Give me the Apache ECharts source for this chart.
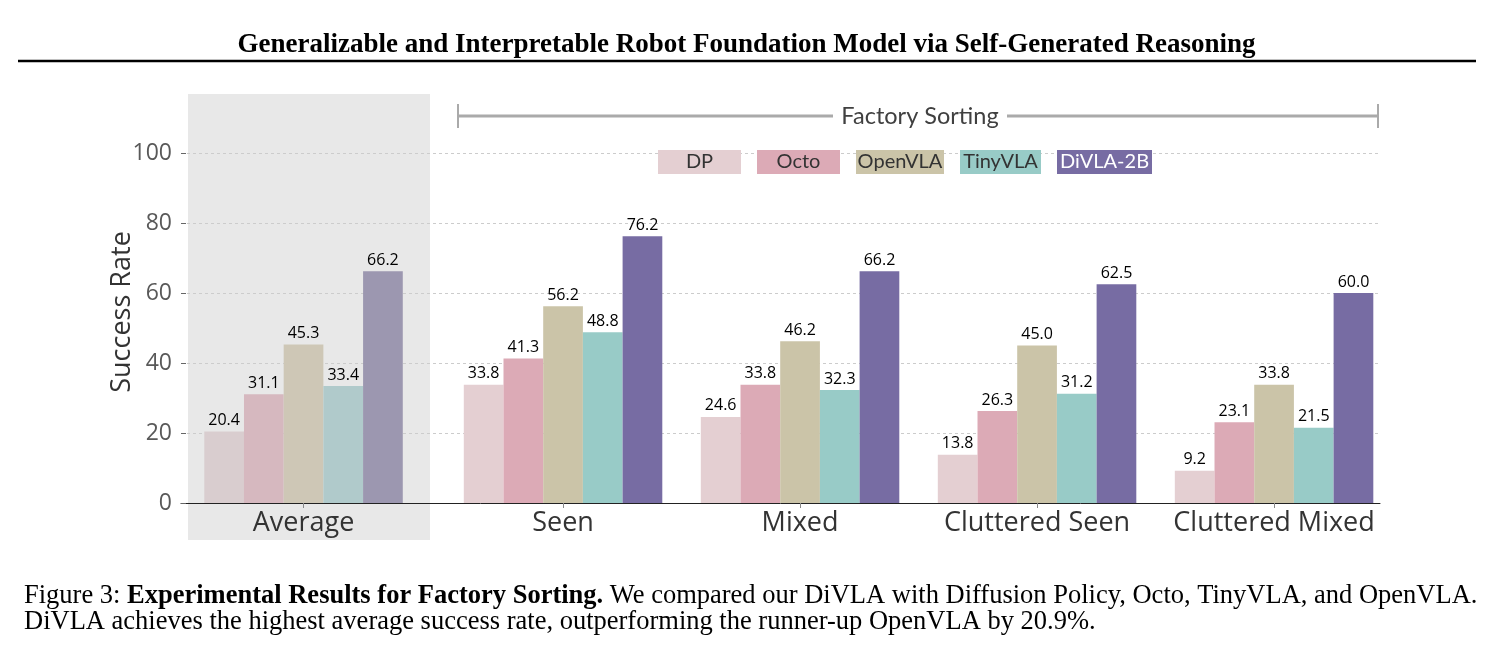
<!DOCTYPE html>
<html>
<head>
<meta charset="utf-8">
<script src="https://cdn.jsdelivr.net/npm/echarts@6/dist/echarts.min.js"></script>
<style>
  html, body { margin: 0; padding: 0; background: #fff; }
  #main { width: 1493px; height: 647px; }
</style>
</head>
<body>
<div id="main"></div>
<script>
// 分组名称
const groups = ['Average', 'Seen', 'Mixed', 'Cluttered Seen', 'Cluttered Mixed'];
// 方法名称
const methods = ['DP', 'Octo', 'OpenVLA', 'TinyVLA', 'DiVLA-2B'];
// 各方法在各分组的成功率
const dpVals = [20.4, 33.8, 24.6, 13.8, 9.2];
const octoVals = [31.1, 41.3, 33.8, 26.3, 23.1];
const openvlaVals = [45.3, 56.2, 46.2, 45.0, 33.8];
const tinyvlaVals = [33.4, 48.8, 32.3, 31.2, 21.5];
const divlaVals = [66.2, 76.2, 66.2, 62.5, 60.0];
const allVals = [dpVals, octoVals, openvlaVals, tinyvlaVals, divlaVals];
// y 轴刻度
const yTicks = [0, 20, 40, 60, 80, 100];

// 分组在 x 轴上的位置（Average 与其余分组之间留出更宽的间隔）
const groupPos = [-0.095, 1, 2, 3, 4];
const colors = ['#e4cfd2', '#dcaab6', '#cbc4a8', '#98cbc7', '#776ca3'];
const avgColors = ['#d9cdcf', '#d6b8bf', '#cec7b6', '#b0cacb', '#9c97b0'];
const legendWidths = [83, 83, 88, 81, 95];

const sans = '"Open Sans", "DejaVu Sans", sans-serif';
const narrow = 'Lato, "Open Sans", sans-serif';
const serif = '"Liberation Serif", "DejaVu Serif", serif';

const myChart = echarts.init(document.getElementById('main'));

// 图例用富文本做成带底色的方块
const legendRich = {};
methods.forEach((m, i) => {
    legendRich['s' + i] = {
        width: legendWidths[i],
        height: 24,
        lineHeight: 24,
        align: 'center',
        backgroundColor: colors[i],
        color: i === 4 ? '#ffffff' : '#333333',
        fontFamily: narrow,
        fontSize: 20
    };
});

const series = methods.map((m, i) => {
    return {
        name: m,
        type: 'bar',
        barWidth: 39.7,
        barGap: '0%',
        itemStyle: { color: colors[i] },
        label: {
            show: true,
            position: 'top',
            distance: 3,
            color: '#000',
            fontFamily: sans,
            fontSize: 16,
            formatter: p => p.value[1].toFixed(1)
        },
        data: allVals[i].map((v, j) => {
            const item = { value: [groupPos[j], v] };
            if (j === 0) item.itemStyle = { color: avgColors[i] };
            return item;
        })
    };
});

const option = {
    animation: false,
    backgroundColor: '#ffffff',
    title: [
        {
            text: 'Generalizable and Interpretable Robot Foundation Model via Self-Generated Reasoning',
            left: 'center',
            top: 27,
            textStyle: { fontFamily: serif, fontWeight: 'bold', fontSize: 27, color: '#000' }
        },
        {
            text: '{n|Figure 3: }{b|Experimental Results for Factory Sorting.}{n| We compared our DiVLA with Diffusion Policy, Octo, TinyVLA, and OpenVLA.}\n{n|DiVLA achieves the highest average success rate, outperforming the runner-up OpenVLA by 20.9%.}',
            left: 19,
            top: 578,
            textStyle: {
                fontWeight: 'normal',
                rich: {
                    n: { fontFamily: serif, fontSize: 26.5, fontWeight: 'normal', color: '#000', lineHeight: 26 },
                    b: { fontFamily: serif, fontSize: 26.5, fontWeight: 'bold', color: '#000', lineHeight: 26 }
                }
            }
        }
    ],
    legend: {
        data: methods,
        left: 648,
        top: 145,
        itemWidth: 0,
        itemHeight: 0,
        itemGap: 11,
        selectedMode: false,
        formatter: name => '{s' + methods.indexOf(name) + '|' + name + '}',
        textStyle: { rich: legendRich }
    },
    grid: {
        left: 181,
        right: 113,
        top: 153,
        bottom: 144
    },
    xAxis: {
        type: 'value',
        min: -0.612,
        max: 4.447,
        splitLine: { show: false },
        axisLine: { show: true, lineStyle: { color: '#222', width: 1 } },
        axisTick: {
            show: true,
            customValues: groupPos,
            length: 5,
            lineStyle: { color: '#888' }
        },
        axisLabel: {
            customValues: groupPos,
            margin: 7,
            color: '#333',
            fontFamily: sans,
            fontSize: 27,
            formatter: v => groups[groupPos.indexOf(v)] || ''
        }
    },
    yAxis: {
        type: 'value',
        min: 0,
        max: 100,
        interval: 20,
        name: 'Success Rate',
        nameLocation: 'middle',
        nameGap: 45,
        nameMoveOverlap: false,
        nameTextStyle: { fontFamily: sans, fontSize: 27, color: '#333', padding: [0, 0, 0, 32] },
        axisLine: { show: false, onZero: false },
        axisTick: { show: true, inside: true, length: 5, lineStyle: { color: '#666' } },
        axisLabel: {
            margin: 9,
            color: '#595959',
            fontFamily: sans,
            fontSize: 23,
            formatter: v => (yTicks.indexOf(v) >= 0 ? String(v) : '')
        },
        splitLine: {
            show: true,
            lineStyle: { color: '#cccccc', type: [3, 3], width: 1 }
        }
    },
    graphic: [
        // Average 背景
        {
            type: 'rect',
            z: -10,
            shape: { x: 188, y: 94, width: 242, height: 446 },
            style: { fill: '#e8e8e8' }
        },
        // 标题下横线
        {
            type: 'line',
            shape: { x1: 18, y1: 61, x2: 1476, y2: 61 },
            style: { stroke: '#000', lineWidth: 2.5 }
        },
        // Factory Sorting 括线
        {
            type: 'line',
            shape: { x1: 458, y1: 116, x2: 833, y2: 116 },
            style: { stroke: '#aaaaaa', lineWidth: 3 }
        },
        {
            type: 'line',
            shape: { x1: 1007, y1: 116, x2: 1378, y2: 116 },
            style: { stroke: '#aaaaaa', lineWidth: 3 }
        },
        {
            type: 'line',
            shape: { x1: 458, y1: 104, x2: 458, y2: 128 },
            style: { stroke: '#aaaaaa', lineWidth: 2 }
        },
        {
            type: 'line',
            shape: { x1: 1378, y1: 104, x2: 1378, y2: 128 },
            style: { stroke: '#aaaaaa', lineWidth: 2 }
        },
        {
            type: 'text',
            x: 920,
            y: 116,
            style: {
                text: 'Factory Sorting',
                fill: '#404040',
                font: '23.5px ' + narrow,
                textAlign: 'center',
                textVerticalAlign: 'middle'
            }
        }
    ],
    series: series
};

myChart.setOption(option);
</script>
</body>
</html>
